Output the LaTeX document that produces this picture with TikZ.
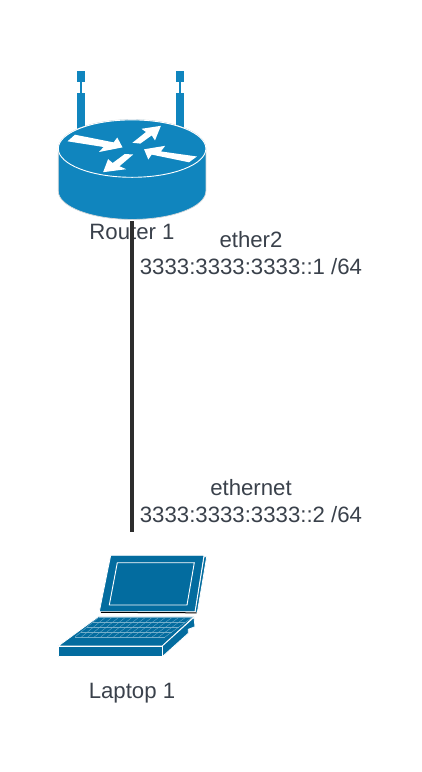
\documentclass[tikz,border=0pt]{standalone}
\usepackage{xcolor}
\usepackage{fontspec}
\setmainfont{Liberation Sans}
\usetikzlibrary{positioning, calc}
\definecolor{routerblue}{HTML}{1085BE}
\definecolor{laptopblue}{HTML}{036C9F}
\definecolor{labelgrey}{HTML}{3A414B}
\definecolor{rimgrey}{HTML}{D5D8DA}
\definecolor{linkgrey}{HTML}{2D2D2D}

\begin{document}
\begin{tikzpicture}[
  x=1pt, y=-1pt,
  every node/.style={font=\fontsize{22.2}{27}\selectfont, align=center, text=labelgrey},
  device/.style={inner sep=0pt, minimum width=148pt},
  link/.style={draw=linkgrey, line width=4.5pt},
  rfill/.style={fill=routerblue},
  arrowshape/.style={fill=white},
  lapfill/.style={fill=laptopblue, draw=white, line width=0.8pt, line join=round},
  keyline/.style={draw=white!45!laptopblue, line width=0.35pt}
]
  \useasboundingbox (0,0) rectangle (422,772);

  % router icon
  \foreach \ax in {77,175.7} {
    \fill[routerblue] (\ax,70.7) rectangle ++(8.4,11.3);
    \fill[routerblue] (\ax+3,82) rectangle ++(2.3,11.3);
    \fill[routerblue] (\ax,93.3) rectangle ++(8.4,36);
  }
  \fill[rfill, draw=rimgrey, line width=0.7pt] (58.3,148.3) -- (58.3,191) arc[start angle=180, end angle=0, x radius=73.8, y radius=28.4]
    -- (205.9,148.3) arc[start angle=0, end angle=-180, x radius=73.8, y radius=28.7] -- cycle;
  \draw[rfill, draw=white, line width=0.9pt] (132.1,148.6) ellipse[x radius=73.8, y radius=28.7];
  \fill[arrowshape] (67.5,141.3) -- (75,134.7) -- (113.6,142.4) -- (117.3,137.5) -- (122.5,147.4) -- (99,152) -- (103.6,147) -- cycle;
  \fill[arrowshape] (160.9,125.8) -- (155,140.4) -- (151.7,135.4) -- (140.3,143.6) -- (132.4,142.8) -- (146,132) -- (141.5,128.8) -- cycle;
  \fill[arrowshape] (144.1,149.3) -- (165.2,145.8) -- (160.9,151.4) -- (196.9,156.5) -- (189,162.3) -- (151.7,154.6) -- (148.3,159.5) -- cycle;
  \fill[arrowshape] (103.1,172.2) -- (108.1,159.1) -- (112.7,163) -- (124.8,154) -- (133.2,154.5) -- (119.5,166.2) -- (126.2,169.2) -- cycle;
  \node[device, minimum height=101pt] (router) at (132,170.5) {};
  \node (routerlabel) at (132,232) {Router 1};

  % laptop icon
  \filldraw[lapfill] (204,556.7) -- (206.7,556.7) -- (197.3,612.7) -- (195,611.7) -- cycle;
  \filldraw[lapfill] (110.7,555.3) -- (204,555.3) -- (195,611.7) -- (99.3,611.7) -- cycle;
  \draw[white, line width=0.9pt] (117.3,562.7) -- (194.3,562.7) -- (187,605) -- (109.3,605) -- cycle;
  \draw[black, line width=1pt] (101,612.3) -- (196.7,612.8);
  \filldraw[lapfill] (98.3,616.7) -- (194,616.7) -- (162.3,646) -- (58.3,646) -- cycle;
  \filldraw[lapfill] (162.3,646) -- (194,617.3) -- (195,626.7) -- (188.3,629.3) -- (188.3,633.3) -- (162.3,656.7) -- cycle;
  \filldraw[lapfill] (58.3,646) rectangle (162.3,656.7);
  \foreach \k in {0,...,4} {
    \draw[keyline] ($(98.5,617.5)!\k/4!(75,637)$) -- ($(192,617.5)!\k/4!(165,637)$);
  }
  \foreach \k in {0,...,14} {
    \draw[keyline] ($(98.5,617.5)!\k/14!(192,617.5)$) -- ($(75,637)!\k/14!(165,637)$);
  }
  \node[device, minimum height=101pt] (laptop) at (132,606) {};
  \node (laptoplabel) at (132,693) {Laptop 1};

  % uplink
  \coordinate (linkend) at (router.south |- 0,531.5);
  \draw[link] (router.south) -- (linkend);

  \node (routerport) at (251,253.5) {ether2\\3333:3333:3333::1 /64};
  \node (laptopport) at (251,501.5) {ethernet\\3333:3333:3333::2 /64};
\end{tikzpicture}
\end{document}
